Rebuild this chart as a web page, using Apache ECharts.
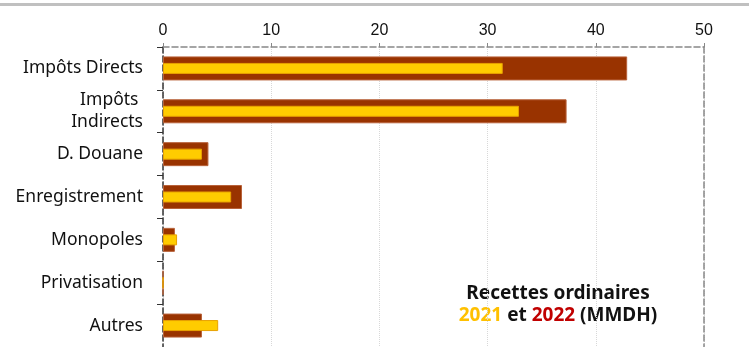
<!DOCTYPE html>
<html>
<head>
<meta charset="utf-8">
<script src="https://cdn.jsdelivr.net/npm/echarts@6/dist/echarts.min.js"></script>
<style>
  html, body { margin: 0; padding: 0; background: #fff; }
  #chart { width: 749px; height: 347px; }
</style>
</head>
<body>
<div id="chart"></div>
<script>
// categories, top to bottom
const categories = ['Impôts Directs', 'Impôts \nIndirects', 'D. Douane', 'Enregistrement', 'Monopoles', 'Privatisation', 'Autres']
// MMDH
const values2022 = [42.9, 37.3, 4.2, 7.3, 1.1, 0, 3.6]
const values2021 = [31.4, 32.9, 3.6, 6.3, 1.3, 0, 5.1]
const xTicks = { min: 0, max: 50, interval: 10 }

const chart = echarts.init(document.getElementById('chart'))

const labelFont = { fontFamily: 'Noto Sans', fontWeight: 'bold', fontSize: 19, lineHeight: 22 }

const option = {
  animation: false,
  grid: { left: 163, right: 45, top: 47, bottom: -1 },
  xAxis: {
    type: 'value',
    position: 'top',
    min: xTicks.min,
    max: xTicks.max,
    interval: xTicks.interval,
    axisLine: { show: true, lineStyle: { color: '#888', type: 'dashed', width: 1.5 } },
    axisTick: { show: true, length: 4, lineStyle: { color: '#888' } },
    axisLabel: { color: '#111', fontFamily: 'Liberation Sans', fontSize: 16, margin: 8 },
    splitLine: { show: true, lineStyle: { color: '#d8d8d8', type: 'dotted' } },
  },
  yAxis: [
    {
      type: 'category',
      data: categories,
      inverse: true,
      axisLine: { show: true, lineStyle: { color: '#333', type: 'dashed', width: 1.5 } },
      axisTick: { show: true, length: 6, lineStyle: { color: '#333' } },
      axisLabel: {
        color: '#111',
        fontFamily: 'Noto Sans',
        fontSize: 17.5,
        margin: 20,
        align: 'right',
        lineHeight: 22,
      },
    },
    {
      // second category axis so the 2021 bar sits centred inside the 2022 bar
      type: 'category',
      data: categories,
      inverse: true,
      position: 'right',
      axisLine: { show: true, lineStyle: { color: '#888', type: 'dashed', width: 1.5 } },
      axisTick: { show: false },
      axisLabel: { show: false },
    },
  ],
  series: [
    {
      name: '2022',
      type: 'bar',
      data: values2022,
      yAxisIndex: 0,
      barWidth: 24,
      itemStyle: { color: '#993300', borderColor: '#B8623A', borderWidth: 1 },
    },
    {
      name: '2021',
      type: 'bar',
      data: values2021,
      yAxisIndex: 1,
      barWidth: 11,
      itemStyle: { color: '#FFCC00', borderColor: '#E8A200', borderWidth: 1 },
    },
  ],
  graphic: [
    {
      type: 'rect',
      shape: { x: 0, y: 3, width: 749, height: 3 },
      style: { fill: '#c0c0c0' },
    },
    {
      type: 'text',
      x: 558,
      y: 283,
      style: {
        text: '{b|Recettes ordinaires}\n{y|2021}{b| et }{r|2022}{b| (MMDH)}',
        align: 'center',
        rich: {
          b: Object.assign({ fill: '#111' }, labelFont),
          y: Object.assign({ fill: '#FFC000' }, labelFont),
          r: Object.assign({ fill: '#C00000' }, labelFont),
        },
      },
    },
  ],
}

chart.setOption(option)
</script>
</body>
</html>
